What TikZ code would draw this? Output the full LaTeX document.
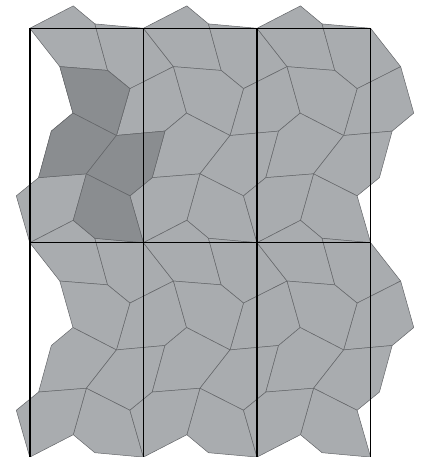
\documentclass[tikz,border=0pt]{standalone}
\begin{document}
\begin{tikzpicture}[x=1pt,y=-1pt]
\definecolor{tileL}{RGB}{169,172,175}
\definecolor{tileD}{RGB}{138,141,144}
\definecolor{edgeC}{RGB}{100,102,105}
\tikzset{
  tile/.style={fill=tileL,draw=edgeC,line width=0.5pt,line join=round},
  dtile/.style={tile,fill=tileD},
  cellframe/.style={draw=black,line width=1.4pt}
}
\useasboundingbox (0,0) rectangle (426,457);
\def\W{113.6}\def\H{214.4}
% periodic coordinates of one cell (relative to its top-left corner)
\newcommand{\cellcoords}{%
  \coordinate (p1) at (43.45,-22.4);
  \coordinate (p2) at (0,0);
  \coordinate (p3) at (65.05,-4.4);
  \coordinate (p4) at (30.05,38.35);
  \coordinate (p5) at (77.8,42.15);
  \coordinate (p6) at (100.1,60.35);
  \coordinate (p7) at (43.15,84.8);
  \coordinate (p8) at (21.55,102.8);
  \coordinate (p9) at (86.6,107.2);
  \coordinate (p10) at (8.8,149.35);
  \coordinate (p11) at (56.55,145.55);
  \coordinate (p12) at (100.1,167.55);
  \coordinate (q2) at (113.6,0);
  \coordinate (q4) at (143.65,38.35);
  \coordinate (q7) at (156.75,84.8);
  \coordinate (q8) at (135.15,102.8);
  \coordinate (q10) at (122.4,149.35);
  \coordinate (r1) at (43.45,192.0);
  \coordinate (r2) at (0,214.4);
  \coordinate (r3) at (65.05,210.0);
  \coordinate (s2) at (113.6,214.4);
  \coordinate (t12) at (-13.5,167.55);
}
\foreach \i in {0,1,2}{
  \foreach \j in {0,1}{
    \begin{scope}[shift={({29.8+\i*\W},{28.3+\j*\H})}]
      \cellcoords
      \path[tile] (p2) -- (p1) -- (p3) -- (p5) -- (p4) -- cycle;   % E
      \path[tile] (p3) -- (q2) -- (q4) -- (p6) -- (p5) -- cycle;   % F
      \path[tile] (p6) -- (q4) -- (q7) -- (q8) -- (p9) -- cycle;   % G
      \path[tile] (p4) -- (p5) -- (p6) -- (p9) -- (p7) -- cycle;   % A
      \path[tile] (p7) -- (p9) -- (p11) -- (p10) -- (p8) -- cycle; % B
      \path[tile] (p9) -- (q8) -- (q10) -- (p12) -- (p11) -- cycle;% C
      \path[tile] (p11) -- (p12) -- (s2) -- (r3) -- (r1) -- cycle; % D
      \path[tile] (p10) -- (p11) -- (r1) -- (r2) -- (t12) -- cycle;% H
    \end{scope}
  }
}
% shaded unit of four tiles
\begin{scope}[shift={(29.8,28.3)}]
  \cellcoords
  \path[dtile] (p4) -- (p5) -- (p6) -- (p9) -- (p7) -- cycle;
  \path[dtile] (p7) -- (p9) -- (p11) -- (p10) -- (p8) -- cycle;
  \path[dtile] (p9) -- (q8) -- (q10) -- (p12) -- (p11) -- cycle;
  \path[dtile] (p11) -- (p12) -- (s2) -- (r3) -- (r1) -- cycle;
\end{scope}
% lattice frame
\foreach \k in {0,1,2,3}{
  \draw[cellframe] ({29.8+\k*\W},28.3) -- ({29.8+\k*\W},{28.3+2*\H});
}
\foreach \k in {0,1}{
  \draw[cellframe] (29.8,{28.3+\k*\H}) -- ({29.8+3*\W},{28.3+\k*\H});
}
\end{tikzpicture}
\end{document}
